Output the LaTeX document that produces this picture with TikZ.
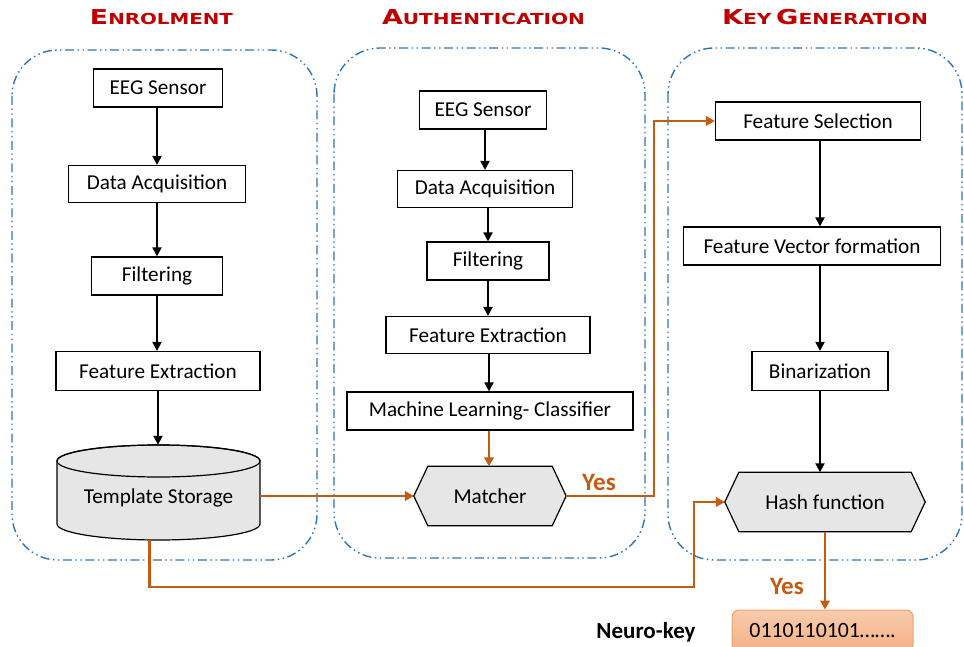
\documentclass[tikz,border=0pt]{standalone}
\usepackage{fontspec}
\setmainfont{Carlito}
\newfontfamily\headingfont{DejaVu Sans}
\usetikzlibrary{arrows.meta,backgrounds}

\definecolor{titlered}{HTML}{C00000}
\definecolor{linkorange}{HTML}{C55A11}
\definecolor{frameblue}{HTML}{2E75B6}
\definecolor{shapegray}{HTML}{E6E6E6}
\definecolor{keylight}{HTML}{F8CBAD}
\definecolor{keydark}{HTML}{F4B183}
\definecolor{keyedge}{HTML}{F2A16C}

% small-caps style stage heading, stretched to a given width
\newcommand\capword[2]{{\fontsize{20.5}{20.5}\selectfont #1}{\fontsize{15.2}{15.2}\selectfont #2}}
\newcommand\stagetitle[2]{\resizebox{#1}{\height}{\headingfont\bfseries #2}}

\tikzset{
  stagebox/.style={draw=black, line width=1.2pt, fill=white, inner sep=0pt,
    font=\fontsize{21.2}{23}\selectfont},
  plainshape/.style={inner sep=0pt, font=\fontsize{21.2}{23}\selectfont},
  heading/.style={text=titlered, inner sep=0pt},
  frame/.style={draw=frameblue, line width=1.4pt, rounded corners=46pt,
    dash pattern=on 9pt off 3.5pt on 1.5pt off 3.5pt on 1.5pt off 3.5pt},
  flow/.style={draw=black, line width=2pt, -{Triangle[length=9pt,width=9pt]}},
  link/.style={draw=linkorange, line width=2.2pt, -{Triangle[length=9pt,width=9.5pt]}},
  yeslabel/.style={text=linkorange, font=\bfseries\fontsize{25}{27}\selectfont},
  outline/.style={draw=black, line width=1.2pt, fill=shapegray}
}

\begin{document}
\begin{tikzpicture}[x=1pt, y=-1pt]
\useasboundingbox (0,0) rectangle (964,647);

% stage headings
\node[heading] (hEnrol) at (161.5,17.5) {\stagetitle{143pt}{\capword{E}{NROLMENT}}};
\node[heading] (hAuth) at (483.5,17.5) {\stagetitle{203pt}{\capword{A}{UTHENTICATION}}};
\node[heading] (hKey) at (825,17.5) {\stagetitle{206pt}{\capword{K}{EY} \capword{G}{ENERATION}}};

% stage frames
\draw[frame] (12,50) rectangle (317,560);
\draw[frame] (334,48) rectangle (645,558);
\draw[frame] (668,48) rectangle (962,560);

% enrolment chain
\node[stagebox, minimum width=129, minimum height=38] (eSensor) at (158,88) {EEG Sensor};
\node[stagebox, minimum width=177, minimum height=37] (eAcq) at (157,184) {Data Acquisition};
\node[stagebox, minimum width=131, minimum height=38] (eFilt) at (157,276) {Filtering};
\node[stagebox, minimum width=204, minimum height=39] (eFeat) at (158,371) {Feature Extraction};
\node[plainshape, minimum width=203, minimum height=95] (store) at (158.5,492.5) {};
\node[plainshape] (storeText) at (158.5,498) {Template Storage};

% authentication chain
\node[stagebox, minimum width=127, minimum height=38] (aSensor) at (483,110) {EEG Sensor};
\node[stagebox, minimum width=175, minimum height=37] (aAcq) at (485,189) {Data Acquisition};
\node[stagebox, minimum width=122, minimum height=38] (aFilt) at (488,261) {Filtering};
\node[stagebox, minimum width=204, minimum height=37] (aFeat) at (488,335) {Feature Extraction};
\node[stagebox, minimum width=286, minimum height=38] (aClass) at (490,411) {Machine Learning- Classifier};
\node[plainshape, minimum width=152, minimum height=59] (match) at (490,496) {Matcher};

% key generation chain
\node[stagebox, minimum width=205, minimum height=38] (kSel) at (818,121) {Feature Selection};
\node[stagebox, minimum width=257, minimum height=38] (kVec) at (812,246) {Feature Vector formation};
\node[stagebox, minimum width=136, minimum height=39] (kBin) at (820,371) {Binarization};
\node[plainshape, minimum width=200, minimum height=59] (hash) at (825,502) {Hash function};

% resulting key
\node[draw=keyedge, line width=1pt, rounded corners=7pt, top color=keylight, bottom color=keydark,
      minimum width=181, minimum height=42, inner sep=0pt, font=\fontsize{21.8}{23}\selectfont]
      (key) at (822.5,631) {0110110101\dots\dots.};
\node[font=\bfseries\fontsize{23}{25}\selectfont] (keyname) at (646,632) {Neuro-key};

% shaded shapes behind their labels
\begin{pgfonlayer}{background}
  % template storage drum
  \path[outline] (57,461) -- (57,524)
    arc[start angle=180, end angle=0, x radius=101.5, y radius=16]
    -- (260,461)
    arc[start angle=0, end angle=-180, x radius=101.5, y radius=16] -- cycle;
  \draw[draw=black, line width=1.2pt] (158.5,461) ellipse[x radius=101.5, y radius=16];
  % matcher and hash hexagons
  \path[outline] (match.west) -- ([xshift=14pt]match.north west) -- ([xshift=-14pt]match.north east)
    -- (match.east) -- ([xshift=-14pt]match.south east) -- ([xshift=14pt]match.south west) -- cycle;
  \path[outline] (hash.west) -- ([xshift=14pt]hash.north west) -- ([xshift=-14pt]hash.north east)
    -- (hash.east) -- ([xshift=-14pt]hash.south east) -- ([xshift=14pt]hash.south west) -- cycle;
\end{pgfonlayer}

% black flow arrows
\draw[flow] (eSensor.south -| eAcq.north) -- (eAcq.north);
\draw[flow] (eAcq.south) -- (eFilt.north);
\draw[flow] (eFilt.south) -- (eFilt.south |- eFeat.north);
\draw[flow] (eFeat.south) -- (eFeat.south |- store.north);

\draw[flow] (aSensor.south -| 485,0) -- (aAcq.north);
\draw[flow] (aAcq.south -| aFilt.north) -- (aFilt.north);
\draw[flow] (aFilt.south) -- (aFeat.north);
\draw[flow] (aFeat.south -| 489,0) -- (aClass.north -| 489,0);

\draw[flow] (kSel.south -| kBin.north) -- (kVec.north -| kBin.north);
\draw[flow] (kVec.south -| kBin.north) -- (kBin.north);
\draw[flow] (kBin.south) -- (kBin.south |- hash.north);

% orange links
\coordinate (lowTurn) at (694,587);
\draw[link] (aClass.south -| 489,0) -- (match.north -| 489,0);
\draw[link] (match.west -| store.east) -- (match.west);
\draw[link] (match.east) -| ([xshift=-61pt]kSel.west) -- (kSel.west);
\draw[link] ([xshift=-9pt]store.south) |- (lowTurn) |- (hash.west);
\draw[link] (hash.south) -- (hash.south |- key.north);

\node[yeslabel] (yesMatch) at (599,482) {Yes};
\node[yeslabel] (yesHash) at (787,586) {Yes};
\end{tikzpicture}
\end{document}
